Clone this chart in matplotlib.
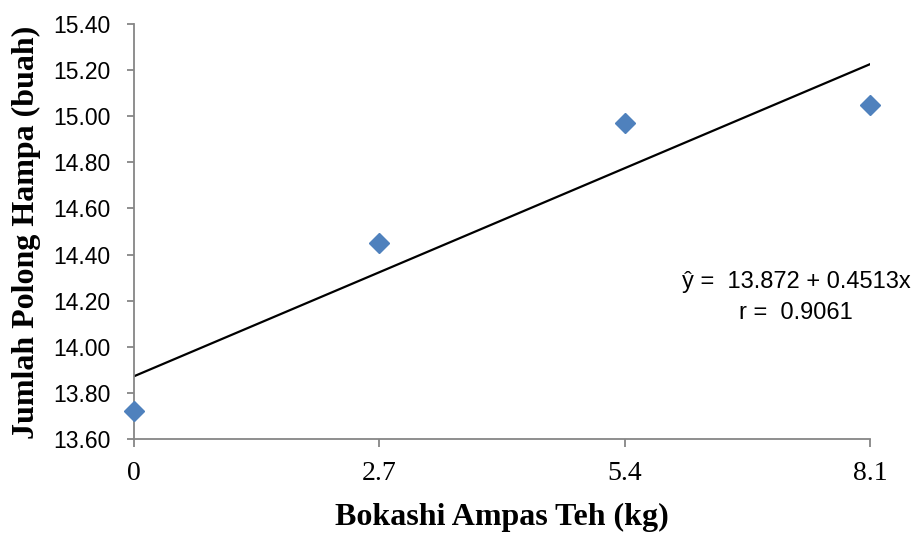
import numpy as np
import matplotlib
matplotlib.use("Agg")
import matplotlib.pyplot as plt

dosis = ['0', '2.7', '5.4', '8.1']
polong_hampa = [13.72, 14.45, 14.97, 15.05]
a_reg = 13.872
b_reg = 0.4513
yticks = [13.60, 13.80, 14.00, 14.20, 14.40, 14.60, 14.80, 15.00, 15.20, 15.40]

x = np.arange(len(dosis))
y_garis = a_reg + b_reg * x

fig = plt.figure(figsize=(9.14, 5.33), dpi=100)
ax = fig.add_axes([0.1466, 0.1764, 0.952 - 0.1466, 0.955 - 0.1764])

ax.plot(x, y_garis, color='black', lw=1.6, zorder=2)
ax.plot(x, polong_hampa, 'D', color='#4F81BD', markersize=10, clip_on=False, zorder=3)

ax.set_xlim(0, 3)
ax.set_ylim(13.6, 15.4)
ax.set_yticks(yticks)
ax.set_yticklabels(['%.2f' % v for v in yticks], family='Liberation Sans', fontsize=16.5)
ax.set_xticks(x)
ax.set_xticklabels(dosis, family='Liberation Serif', fontsize=20)

for s in ['top', 'right']:
    ax.spines[s].set_visible(False)
for s in ['left', 'bottom']:
    ax.spines[s].set_color('#868686')
    ax.spines[s].set_linewidth(1.3)
ax.tick_params(axis='y', direction='out', length=5, color='#868686', width=1.3, pad=12)
ax.tick_params(axis='x', direction='out', length=6, color='#868686', width=1.3, pad=10)

# judul sumbu
fig.text(502 / 914, 1 - 517 / 533, 'Bokashi Ampas Teh (kg)', ha='center', va='center',
         family='Liberation Serif', fontweight='bold', fontsize=23)
fig.text(26 / 914, 1 - 232 / 533, 'Jumlah Polong Hampa (buah)', ha='center', va='center',
         rotation=90, family='Liberation Serif', fontweight='bold', fontsize=23)

fig.text(796 / 914, 1 - 282 / 533, 'ŷ =  13.872 + 0.4513x', ha='center', va='center',
         family='Liberation Sans', fontsize=17)
fig.text(796 / 914, 1 - 313 / 533, 'r =  0.9061', ha='center', va='center',
         family='Liberation Sans', fontsize=17)

plt.savefig('out.png', dpi=100)
